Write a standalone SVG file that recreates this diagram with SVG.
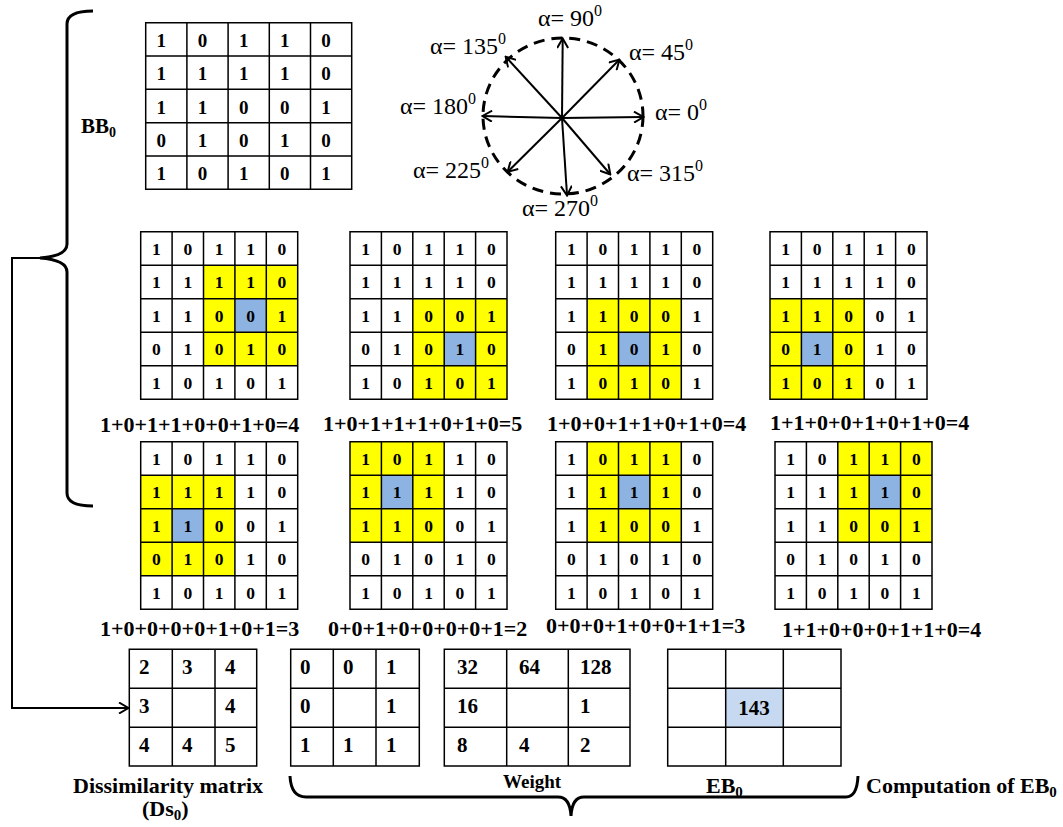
<svg xmlns="http://www.w3.org/2000/svg" xmlns:xlink="http://www.w3.org/1999/xlink" width="1063" height="827" viewBox="0 0 1063 827">
<style>
.g{fill:none;stroke:#000;stroke-width:1.5}
.d{font-family:"Liberation Serif","Times New Roman",serif;font-weight:bold;fill:#000}
.c{font-size:17.5px;text-anchor:middle}
.t{font-size:19px}
.b{font-size:21px}
.eq{font-size:22px}
.lb{font-size:22px}
.al{font-family:"Liberation Serif","Times New Roman",serif;font-size:24px;fill:#000}
.y{fill:#ffff00}
.bl{fill:#8db3e2}
.ln{fill:none;stroke:#000;stroke-width:2}
.br{fill:none;stroke:#000;stroke-width:3}
</style>
<defs>
<marker id="ah" viewBox="0 0 12 12" refX="10" refY="6" markerWidth="12" markerHeight="12" markerUnits="userSpaceOnUse" orient="auto">
<path d="M1,0.5 L10.5,6 L1,11.5" fill="none" stroke="#000" stroke-width="2"/>
</marker>
<path id="grid5" class="g" d="M0,0H157V167.5H0Z M31.4,0V167.5 M62.8,0V167.5 M94.2,0V167.5 M125.6,0V167.5 M0,33.5H157 M0,67H157 M0,100.5H157 M0,134H157"/>
<g id="dig" class="d c">
<text x="15.7" y="23">1</text><text x="47.1" y="23">0</text><text x="78.5" y="23">1</text><text x="109.9" y="23">1</text><text x="141.3" y="23">0</text>
<text x="15.7" y="56.5">1</text><text x="47.1" y="56.5">1</text><text x="78.5" y="56.5">1</text><text x="109.9" y="56.5">1</text><text x="141.3" y="56.5">0</text>
<text x="15.7" y="90">1</text><text x="47.1" y="90">1</text><text x="78.5" y="90">0</text><text x="109.9" y="90">0</text><text x="141.3" y="90">1</text>
<text x="15.7" y="123.5">0</text><text x="47.1" y="123.5">1</text><text x="78.5" y="123.5">0</text><text x="109.9" y="123.5">1</text><text x="141.3" y="123.5">0</text>
<text x="15.7" y="157">1</text><text x="47.1" y="157">0</text><text x="78.5" y="157">1</text><text x="109.9" y="157">0</text><text x="141.3" y="157">1</text>
</g>
</defs>
<rect width="1063" height="827" fill="#fff"/>

<!-- Top BB0 matrix -->
<g id="bb0">
<path class="g" d="M145.7,22.7H351.7V189.3H145.7Z M186.9,22.7V189.3 M228.1,22.7V189.3 M269.3,22.7V189.3 M310.5,22.7V189.3 M145.7,56H351.7 M145.7,89.3H351.7 M145.7,122.7H351.7 M145.7,156H351.7"/>
<g class="d t">
<text x="156.5" y="47">1</text><text x="197.7" y="47">0</text><text x="238.9" y="47">1</text><text x="280.1" y="47">1</text><text x="321.3" y="47">0</text>
<text x="156.5" y="80.3">1</text><text x="197.7" y="80.3">1</text><text x="238.9" y="80.3">1</text><text x="280.1" y="80.3">1</text><text x="321.3" y="80.3">0</text>
<text x="156.5" y="113.6">1</text><text x="197.7" y="113.6">1</text><text x="238.9" y="113.6">0</text><text x="280.1" y="113.6">0</text><text x="321.3" y="113.6">1</text>
<text x="156.5" y="147">0</text><text x="197.7" y="147">1</text><text x="238.9" y="147">0</text><text x="280.1" y="147">1</text><text x="321.3" y="147">0</text>
<text x="156.5" y="180.3">1</text><text x="197.7" y="180.3">0</text><text x="238.9" y="180.3">1</text><text x="280.1" y="180.3">0</text><text x="321.3" y="180.3">1</text>
</g>
<text class="d" x="81" y="133" font-size="21">BB<tspan font-size="14" dy="4">0</tspan></text>
</g>

<!-- Direction compass -->
<g id="compass">
<ellipse cx="563" cy="116" rx="80" ry="78" fill="none" stroke="#000" stroke-width="3" stroke-dasharray="11 7"/>
<g class="ln" marker-end="url(#ah)">
<line x1="562" y1="118" x2="643" y2="117"/>
<line x1="562" y1="118" x2="619" y2="60"/>
<line x1="562" y1="118" x2="562.7" y2="39"/>
<line x1="562" y1="118" x2="506" y2="57"/>
<line x1="562" y1="118" x2="483" y2="116"/>
<line x1="562" y1="118" x2="508" y2="171.5"/>
<line x1="562" y1="118" x2="567" y2="195"/>
<line x1="562" y1="118" x2="610" y2="174"/>
</g>
<text class="al" x="538" y="26">α= 90<tspan font-size="16" dy="-10">0</tspan></text>
<text class="al" x="430" y="54">α= 135<tspan font-size="16" dy="-10">0</tspan></text>
<text class="al" x="629" y="60">α= 45<tspan font-size="16" dy="-10">0</tspan></text>
<text class="al" x="400" y="114">α= 180<tspan font-size="16" dy="-10">0</tspan></text>
<text class="al" x="655" y="120">α= 0<tspan font-size="16" dy="-10">0</tspan></text>
<text class="al" x="413" y="178">α= 225<tspan font-size="16" dy="-10">0</tspan></text>
<text class="al" x="627" y="181">α= 315<tspan font-size="16" dy="-10">0</tspan></text>
<text class="al" x="522" y="216">α= 270<tspan font-size="16" dy="-10">0</tspan></text>
</g>

<!-- Neighbourhood grids, row 1 -->
<g id="n1" transform="translate(140.7,231.7)">
<rect class="y" x="62.8" y="33.5" width="94.2" height="100.5"/><rect class="bl" x="94.2" y="67" width="31.4" height="33.5"/>
<use xlink:href="#grid5"/><use xlink:href="#dig"/>
</g>
<g id="n2" transform="translate(350,231.7)">
<rect class="y" x="62.8" y="67" width="94.2" height="100.5"/><rect class="bl" x="94.2" y="100.5" width="31.4" height="33.5"/>
<use xlink:href="#grid5"/><use xlink:href="#dig"/>
</g>
<g id="n3" transform="translate(555.7,231.7)">
<rect class="y" x="31.4" y="67" width="94.2" height="100.5"/><rect class="bl" x="62.8" y="100.5" width="31.4" height="33.5"/>
<use xlink:href="#grid5"/><use xlink:href="#dig"/>
</g>
<g id="n4" transform="translate(770,231.7)">
<rect class="y" x="0" y="67" width="94.2" height="100.5"/><rect class="bl" x="31.4" y="100.5" width="31.4" height="33.5"/>
<use xlink:href="#grid5"/><use xlink:href="#dig"/>
</g>
<g id="eq-row1" class="d eq">
<text x="100" y="432">1+0+1+1+0+0+1+0=4</text>
<text x="323" y="431">1+0+1+1+1+0+1+0=5</text>
<text x="547" y="431">1+0+0+1+1+0+1+0=4</text>
<text x="770" y="430">1+1+0+0+1+0+1+0=4</text>
</g>

<!-- Neighbourhood grids, row 2 -->
<g id="n5" transform="translate(140.7,441.7)">
<rect class="y" x="0" y="33.5" width="94.2" height="100.5"/><rect class="bl" x="31.4" y="67" width="31.4" height="33.5"/>
<use xlink:href="#grid5"/><use xlink:href="#dig"/>
</g>
<g id="n6" transform="translate(350,441.7)">
<rect class="y" x="0" y="0" width="94.2" height="100.5"/><rect class="bl" x="31.4" y="33.5" width="31.4" height="33.5"/>
<use xlink:href="#grid5"/><use xlink:href="#dig"/>
</g>
<g id="n7" transform="translate(555.7,441.7)">
<rect class="y" x="31.4" y="0" width="94.2" height="100.5"/><rect class="bl" x="62.8" y="33.5" width="31.4" height="33.5"/>
<use xlink:href="#grid5"/><use xlink:href="#dig"/>
</g>
<g id="n8" transform="translate(775,441.7)">
<rect class="y" x="62.8" y="0" width="94.2" height="100.5"/><rect class="bl" x="94.2" y="33.5" width="31.4" height="33.5"/>
<use xlink:href="#grid5"/><use xlink:href="#dig"/>
</g>
<g id="eq-row2" class="d eq">
<text x="100" y="636">1+0+0+0+0+1+0+1=3</text>
<text x="328" y="636">0+0+1+0+0+0+0+1=2</text>
<text x="546" y="633">0+0+0+1+0+0+1+1=3</text>
<text x="782" y="637">1+1+0+0+0+1+1+0=4</text>
</g>

<!-- Bottom matrices -->
<g id="ds0">
<path class="g" d="M129.3,649.3H256.7V766H129.3Z M172.3,649.3V766 M215,649.3V766 M129.3,688.3H256.7 M129.3,727.3H256.7"/>
<g class="d b">
<text x="139" y="674">2</text><text x="182" y="674">3</text><text x="225" y="674">4</text>
<text x="139" y="713">3</text><text x="225" y="713">4</text>
<text x="139" y="752">4</text><text x="182" y="752">4</text><text x="225" y="752">5</text>
</g>
<text class="d lb" x="73" y="793">Dissimilarity matrix</text>
<text class="d lb" x="142" y="816">(Ds<tspan font-size="15" dy="4">0</tspan><tspan dy="-4">)</tspan></text>
</g>
<g id="bin">
<path class="g" d="M290.7,649.3H419.3V766H290.7Z M333.3,649.3V766 M376,649.3V766 M290.7,688.3H419.3 M290.7,727.3H419.3"/>
<g class="d b">
<text x="300" y="674">0</text><text x="343" y="674">0</text><text x="386" y="674">1</text>
<text x="300" y="713">0</text><text x="386" y="713">1</text>
<text x="300" y="752">1</text><text x="343" y="752">1</text><text x="386" y="752">1</text>
</g>
</g>
<g id="weight">
<path class="g" d="M444.3,649.3H630V766H444.3Z M506.7,649.3V766 M568.3,649.3V766 M444.3,688.3H630 M444.3,727.3H630"/>
<g class="d b">
<text x="457" y="674">32</text><text x="519" y="674">64</text><text x="580" y="674">128</text>
<text x="457" y="713">16</text><text x="580" y="713">1</text>
<text x="457" y="752">8</text><text x="519" y="752">4</text><text x="580" y="752">2</text>
</g>
<text class="d" x="503" y="788" font-size="19">Weight</text>
</g>
<g id="eb0">
<rect x="725.7" y="688.3" width="57.6" height="39" fill="#c6d9f1"/>
<path class="g" d="M667.7,649.3H841V766H667.7Z M725.7,649.3V766 M783.3,649.3V766 M667.7,688.3H841 M667.7,727.3H841"/>
<text class="d b" x="754" y="715" text-anchor="middle">143</text>
<text class="d lb" x="706" y="793">EB<tspan font-size="15" dy="4">0</tspan></text>
</g>
<text id="comp" class="d lb" x="866" y="793">Computation of EB<tspan font-size="15" dy="4">0</tspan></text>

<!-- Braces -->
<g id="braces">
<path class="br" d="M93,11 Q67,11 67,24 L67,244 Q67,256 40,258 Q67,260 67,272 L67,493 Q67,506 93,506"/>
<path class="br" d="M290,776 Q291,797 306,797 L558,797 Q570,797 571,816 Q572,797 584,797 L846,797 Q857,797 858,776"/>
</g>

<!-- Connectors -->
<g id="connectors">
<path class="ln" d="M40,258 H12 V708 H128" marker-end="url(#ah)"/>
</g>
</svg>
